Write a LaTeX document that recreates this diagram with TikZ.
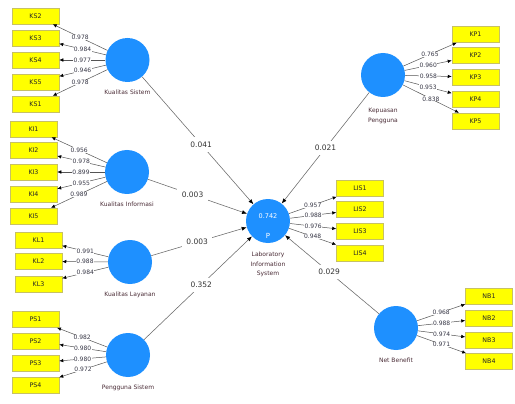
\documentclass[tikz,border=0pt]{standalone}
\usepackage{fontspec}
\setmainfont{DejaVu Sans}
\usetikzlibrary{arrows.meta}
\definecolor{lvblue}{RGB}{30,144,255}
\definecolor{indyellow}{RGB}{255,255,0}
\definecolor{pathgray}{RGB}{105,105,105}
\definecolor{lvtext}{RGB}{75,45,55}
\definecolor{valtext}{RGB}{55,55,70}
\tikzset{
latent/.style={circle,fill=lvblue,minimum size=44pt,inner sep=0pt},
indicator/.style={rectangle,fill=indyellow,draw=yellow!50!gray,line width=0.5pt,minimum width=47pt,minimum height=16pt,inner sep=0pt,text=black!85,font=\fontsize{6.3}{7}\selectfont},
loading/.style={draw=pathgray!80!black,line width=0.5pt,-{Latex[length=4pt,width=3.5pt,color=black]}},
structpath/.style={draw=pathgray,line width=0.55pt,-{Latex[length=5pt,width=4pt,color=black]}},
loadval/.style={fill=white,inner sep=0.4pt,text=valtext,font=\fontsize{6}{6}\selectfont},
coefval/.style={fill=white,inner sep=4.5pt,text=black!80,font=\fontsize{7.5}{8}\selectfont},
lvname/.style={anchor=north,inner sep=0pt,align=center,text=lvtext,font=\fontsize{6}{9.5}\selectfont}
}
\begin{document}
\begin{tikzpicture}[x=1pt,y=-1pt]
\fill[white] (0,0) rectangle (515,404);
\useasboundingbox (0,0) rectangle (515,404);
\node[latent] (ks) at (127.5,60) {};
\node[lvname] (kslab) at ([yshift=-8pt]ks.south) {Kualitas Sistem};
\foreach \name/\yy/\val [count=\i] in {KS2/16/0.978,KS3/38/0.984,KS4/60/0.977,KS5/82/0.946,KS1/104/0.978}{
\node[indicator] (ks\i) at (35.5,\yy) {\name};
\draw[loading] (ks) -- node[loadval] {\val} (ks\i);
}
\node[latent] (ki) at (127,172) {};
\node[lvname] (kilab) at ([yshift=-8pt]ki.south) {Kualitas Informasi};
\foreach \name/\yy/\val [count=\i] in {KI1/129/0.956,KI2/150.5/0.978,KI3/172/0.899,KI4/194.5/0.955,KI5/216/0.989}{
\node[indicator] (ki\i) at (33.5,\yy) {\name};
\draw[loading] (ki) -- node[loadval] {\val} (ki\i);
}
\node[latent] (kl) at (130,262) {};
\node[lvname] (kllab) at ([yshift=-8pt]kl.south) {Kualitas Layanan};
\foreach \name/\yy/\val [count=\i] in {KL1/240/0.991,KL2/261.5/0.988,KL3/284/0.984}{
\node[indicator] (kl\i) at (38.5,\yy) {\name};
\draw[loading] (kl) -- node[loadval] {\val} (kl\i);
}
\node[latent] (ps) at (128,355) {};
\node[lvname] (pslab) at ([yshift=-8pt]ps.south) {Pengguna Sistem};
\foreach \name/\yy/\val [count=\i] in {PS1/319.5/0.982,PS2/341/0.980,PS3/363/0.980,PS4/385/0.972}{
\node[indicator] (ps\i) at (35.5,\yy) {\name};
\draw[loading] (ps) -- node[loadval] {\val} (ps\i);
}
\node[latent] (kp) at (383,75) {};
\node[lvname] (kplab) at ([yshift=-11pt]kp.south) {Kepuasan\\Pengguna};
\foreach \name/\yy/\val [count=\i] in {KP1/34.5/0.765,KP2/55.5/0.960,KP3/77/0.958,KP4/99.5/0.953,KP5/121/0.838}{
\node[indicator] (kp\i) at (475.5,\yy) {\name};
\draw[loading] (kp) -- node[loadval] {\val} (kp\i);
}
\node[latent] (lis) at (268,221) {};
\node[text=white,font=\fontsize{6.5}{7}\selectfont] (lisr2) at ([yshift=5pt]lis.center) {0.742};
\node[text=white,font=\fontsize{7}{7}\selectfont] (lisp) at ([yshift=-15pt]lis.center) {P};
\node[lvname] (lislab) at ([yshift=-9pt]lis.south) {Laboratory\\Information\\System};
\foreach \name/\yy/\val [count=\i] in {LIS1/188.5/0.957,LIS2/209.5/0.988,LIS3/231.5/0.976,LIS4/253/0.948}{
\node[indicator] (lis\i) at (360,\yy) {\name};
\draw[loading] (lis) -- node[loadval] {\val} (lis\i);
}
\node[latent] (nb) at (396,328) {};
\node[lvname] (nblab) at ([yshift=-8pt]nb.south) {Net Benefit};
\foreach \name/\yy/\val [count=\i] in {NB1/296/0.968,NB2/318/0.988,NB3/340/0.974,NB4/361.5/0.971}{
\node[indicator] (nb\i) at (489,\yy) {\name};
\draw[loading] (nb) -- node[loadval] {\val} (nb\i);
}
\draw[structpath] (ks) -- node[coefval,pos=0.53] {0.041} (lis);
\draw[structpath] (ki) -- node[coefval,pos=0.45] {0.003} (lis);
\draw[structpath] (kl) -- node[coefval,pos=0.48] {0.003} (lis);
\draw[structpath] (ps) -- node[coefval,pos=0.53] {0.352} (lis);
\draw[structpath] (kp) -- node[coefval,pos=0.5] {0.021} (lis);
\draw[structpath] (nb) -- node[coefval,pos=0.53] {0.029} (lis);
\end{tikzpicture}
\end{document}
